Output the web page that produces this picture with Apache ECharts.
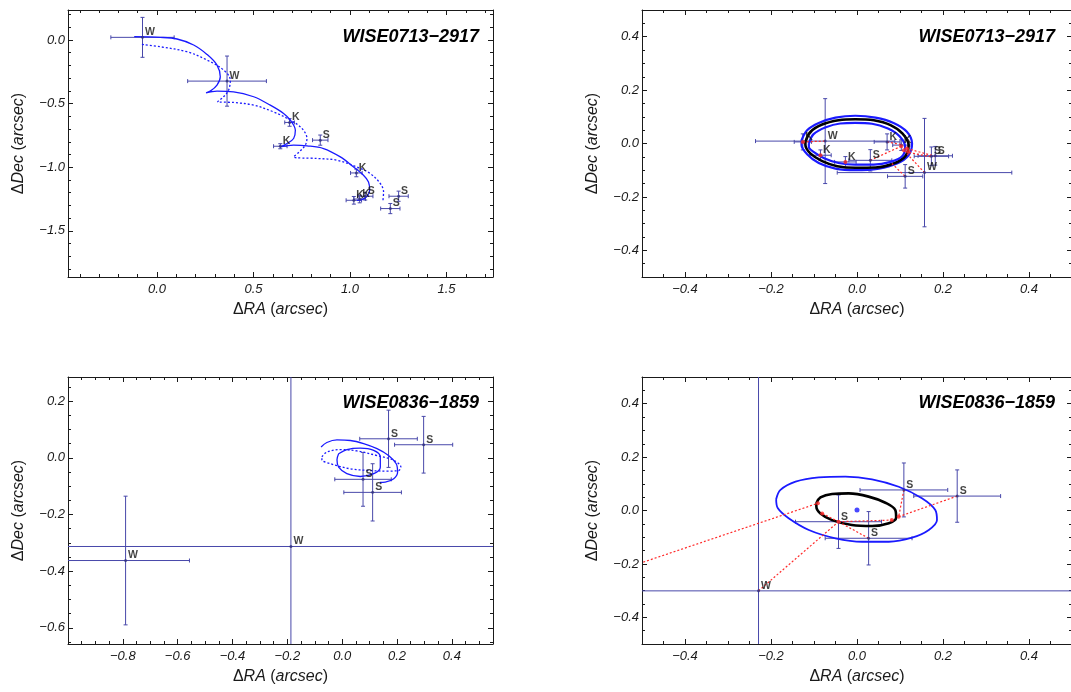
<!DOCTYPE html>
<html>
<head>
<meta charset="utf-8">
<script src="https://cdn.jsdelivr.net/npm/echarts@6/dist/echarts.min.js"></script>
<style>
  html, body { margin: 0; padding: 0; background: #fff; }
  #chart { width: 1071px; height: 692px; }
</style>
</head>
<body>
<div id="chart"></div>
<script>
// ---- WISE0713-2917, absolute track (top left) ----
const p1Lab = ['W', 'W', 'K', 'K', 'S', 'K', 'S', 'K', 'K', 'S', 'S'];
const p1X = [-0.075, 0.363, 0.687, 0.639, 0.846, 1.033, 1.079, 1.02, 1.05, 1.252, 1.209];
const p1Y = [0.021, -0.323, -0.648, -0.835, -0.787, -1.045, -1.228, -1.26, -1.25, -1.228, -1.325];
const p1Ex = [0.164, 0.204, 0.025, 0.035, 0.04, 0.03, 0.04, 0.04, 0.03, 0.05, 0.05];
const p1Ey = [0.157, 0.197, 0.03, 0.02, 0.04, 0.03, 0.03, 0.03, 0.03, 0.04, 0.04];
const p1Solid = [
  [-0.118, 0.026], [0.017, 0.021], [0.104, 0.008], [0.190, -0.039], [0.259, -0.113], [0.311, -0.197],
  [0.328, -0.289], [0.311, -0.354], [0.276, -0.402], [0.254, -0.415], [0.311, -0.402], [0.397, -0.407],
  [0.501, -0.446], [0.587, -0.512], [0.656, -0.577], [0.691, -0.630], [0.717, -0.709], [0.708, -0.774],
  [0.674, -0.813], [0.639, -0.840], [0.708, -0.827], [0.777, -0.832], [0.863, -0.853], [0.950, -0.919],
  [1.019, -0.998], [1.070, -1.063], [1.096, -1.116], [1.102, -1.181], [1.088, -1.228], [1.062, -1.254],
  [1.036, -1.260]
];
const p1Dotted = [
  [-0.078, -0.034], [0.017, -0.053], [0.155, -0.092], [0.259, -0.157], [0.345, -0.236], [0.380, -0.315],
  [0.371, -0.394], [0.345, -0.446], [0.314, -0.486], [0.397, -0.491], [0.501, -0.512], [0.604, -0.565],
  [0.691, -0.630], [0.751, -0.695], [0.777, -0.774], [0.768, -0.827], [0.734, -0.884], [0.708, -0.919],
  [0.829, -0.931], [0.933, -0.945], [1.036, -0.998], [1.105, -1.050], [1.157, -1.128], [1.174, -1.194],
  [1.171, -1.260]
];

// ---- WISE0713-2917, parallax only (top right) ----
const p2Lab = ['W', 'W', 'K', 'K', 'K', 'K', 'K', 'S', 'S', 'S', 'S'];
const p2X = [-0.074, 0.157, -0.126, -0.085, -0.027, 0.070, 0.103, 0.031, 0.112, 0.173, 0.182];
const p2Y = [0.009, -0.109, 0.006, -0.044, -0.069, 0.006, -0.006, -0.063, -0.123, -0.048, -0.046];
const p2Ex = [0.162, 0.203, 0.02, 0.025, 0.025, 0.03, 0.02, 0.05, 0.041, 0.04, 0.04];
const p2Ey = [0.159, 0.203, 0.03, 0.02, 0.02, 0.03, 0.02, 0.04, 0.044, 0.035, 0.035];
const p2BlueOuter = [
  [-0.129, 0.012], [-0.116, 0.050], [-0.089, 0.077], [-0.050, 0.097], [-0.004, 0.104], [0.043, 0.097],
  [0.085, 0.077], [0.116, 0.044], [0.128, 0.000], [0.120, -0.044], [0.093, -0.075], [0.051, -0.094],
  [-0.004, -0.100], [-0.050, -0.094], [-0.089, -0.073], [-0.116, -0.040], [-0.129, -0.006], [-0.129, 0.012]
];
const p2Black = [
  [-0.120, 0.006], [-0.108, 0.044], [-0.081, 0.071], [-0.043, 0.087], [-0.004, 0.091], [0.039, 0.087],
  [0.078, 0.069], [0.106, 0.037], [0.120, -0.006], [0.112, -0.048], [0.085, -0.075], [0.043, -0.090],
  [-0.004, -0.091], [-0.046, -0.085], [-0.081, -0.066], [-0.108, -0.038], [-0.120, -0.006], [-0.120, 0.006]
];
const p2BlueInner = [
  [-0.112, 0.000], [-0.101, 0.035], [-0.074, 0.060], [-0.039, 0.075], [-0.004, 0.077], [0.035, 0.074],
  [0.072, 0.056], [0.099, 0.027], [0.112, -0.013], [0.105, -0.048], [0.078, -0.069], [0.039, -0.079],
  [-0.004, -0.079], [-0.043, -0.073], [-0.075, -0.056], [-0.101, -0.031], [-0.112, -0.013], [-0.112, 0.000]
];
const p2Resid = [
  [-0.126, 0.006, -0.075, 0.009], [0.031, -0.063, 0.103, -0.010], [0.070, 0.006, 0.103, -0.004],
  [0.112, -0.031, 0.173, -0.050], [0.081, -0.075, 0.112, -0.123], [0.116, -0.038, 0.157, -0.109],
  [0.116, -0.019, 0.182, -0.048]
];
const p2Model = [[-0.126, 0.006], [-0.085, -0.044], [-0.027, -0.069], [0.103, -0.010], [0.109, -0.025], [0.116, -0.019], [0.120, -0.031]];

// ---- WISE0836-1859, absolute track (bottom left) ----
const p3Lab = ['W', 'W', 'S', 'S', 'S', 'S'];
const p3X = [-0.790, -0.187, 0.169, 0.297, 0.076, 0.111];
const p3Y = [-0.3625, -0.313, 0.067, 0.046, -0.076, -0.122];
const p3Ex = [0.233, 1.5, 0.105, 0.106, 0.103, 0.105];
const p3Ey = [0.227, 1.0, 0.101, 0.100, 0.095, 0.101];
const p3SolidA = [
  [-0.077, 0.038], [-0.056, 0.054], [-0.019, 0.063], [0.030, 0.061], [0.078, 0.050], [0.127, 0.032],
  [0.169, 0.008], [0.197, -0.021], [0.202, -0.050], [0.188, -0.074], [0.157, -0.086], [0.137, -0.087]
];
const p3SolidB = [
  [-0.013, 0.014], [0.017, 0.029], [0.066, 0.034], [0.115, 0.026], [0.139, 0.003], [0.139, -0.033],
  [0.115, -0.056], [0.066, -0.066], [0.017, -0.056], [-0.013, -0.033], [-0.019, -0.007], [-0.013, 0.014]
];
const p3Dotted = [
  [-0.074, 0.003], [-0.056, 0.020], [-0.007, 0.029], [0.054, 0.024], [0.127, 0.008], [0.188, -0.009],
  [0.214, -0.033], [0.206, -0.045], [0.163, -0.047], [0.102, -0.045], [0.030, -0.039], [-0.043, -0.021],
  [-0.074, -0.007], [-0.074, 0.003]
];

// ---- WISE0836-1859, parallax only (bottom right) ----
const p4Lab = ['W', 'S', 'S', 'S', 'S'];
const p4X = [-0.229, 0.109, 0.233, -0.043, 0.027];
const p4Y = [-0.301, 0.077, 0.054, -0.042, -0.104];
const p4Ex = [1.0, 0.102, 0.101, 0.1, 0.101];
const p4Ey = [1.0, 0.101, 0.098, 0.100, 0.100];
const p4Blue = [
  [-0.188, 0.042], [-0.178, 0.077], [-0.143, 0.108], [-0.089, 0.124], [-0.027, 0.127], [0.035, 0.117],
  [0.097, 0.089], [0.151, 0.046], [0.182, 0.002], [0.186, -0.036], [0.167, -0.073], [0.128, -0.102],
  [0.074, -0.117], [0.012, -0.117], [-0.050, -0.104], [-0.112, -0.073], [-0.159, -0.029], [-0.184, 0.008],
  [-0.188, 0.042]
];
const p4Black = [
  [-0.0945, 0.027], [-0.085, 0.049], [-0.058, 0.062], [-0.019, 0.064], [0.027, 0.052], [0.066, 0.029],
  [0.089, 0.002], [0.091, -0.026], [0.074, -0.048], [0.035, -0.058], [-0.012, -0.054], [-0.058, -0.036],
  [-0.085, -0.011], [-0.0945, 0.014], [-0.0945, 0.027]
];
const p4Resid = [
  [-0.55, -0.222, -0.091, 0.027], [-0.229, -0.301, -0.043, -0.042], [0.109, 0.077, 0.097, -0.023],
  [0.233, 0.054, 0.097, -0.023], [-0.043, -0.042, 0.081, -0.036], [0.027, -0.104, -0.043, -0.042],
  [-0.043, -0.042, -0.081, -0.011]
];
const p4Model = [[-0.091, 0.027], [0.097, -0.023], [0.081, -0.036], [-0.081, -0.011], [-0.043, -0.042]];
const p4Center = [[0.0, 0.002]];

const titles = ['WISE0713\u22122917', 'WISE0713\u22122917', 'WISE0836\u22121859', 'WISE0836\u22121859'];

// ---- layout ----
const FONT = '"Liberation Sans", Arial, Helvetica, sans-serif';
const INK = '#1a1a1a';
const ERR = '#4848aa';
const BLUE = '#1a1aff';
const RED = '#ff2a2a';

const grids = [
  { left: 68, top: 10, width: 425, height: 267 },
  { left: 642, top: 10, width: 430, height: 267 },
  { left: 68, top: 377, width: 425, height: 267 },
  { left: 642, top: 377, width: 430, height: 267 }
];
const xRange = [[-0.461, 1.741], [-0.5, 0.5], [-1.0, 0.55], [-0.5, 0.5]];
const yRange = [[-1.863, 0.236], [-0.5, 0.5], [-0.657, 0.285], [-0.5, 0.5]];
const xSplit = [4, 5, 8, 5], ySplit = [4, 5, 5, 5];
const xMinor = [5, 4, 4, 4], yMinor = [5, 4, 4, 4];

function fmt(v) {
  if (Math.abs(v) < 1e-9) return '0.0';
  return (v < 0 ? '\u2212' : '') + Math.abs(v).toFixed(1);
}

const nameRich = {
  n: { fontFamily: FONT, fontSize: 16, color: INK },
  i: { fontFamily: FONT, fontSize: 16, color: INK, fontStyle: 'italic' }
};

function axis(gi, range, split, minor, pos, isX) {
  const main = pos === 'bottom' || pos === 'left';
  return {
    type: 'value', gridIndex: gi, position: pos,
    min: range[0], max: range[1], splitNumber: split,
    axisLine: { show: true, onZero: false, lineStyle: { color: INK, width: 1 } },
    axisTick: { show: true, inside: true, length: 5, lineStyle: { color: INK, width: 1 } },
    minorTick: { show: true, splitNumber: minor, length: 3, lineStyle: { color: INK, width: 1 } },
    splitLine: { show: false },
    axisLabel: {
      show: main, showMinLabel: false, showMaxLabel: false, formatter: fmt,
      fontFamily: FONT, fontStyle: 'italic', fontSize: 13, color: INK, margin: isX ? 6 : 3
    },
    name: main ? (isX ? '{n|\u0394}{i|RA} {n|(}{i|arcsec}{n|)}' : '{n|\u0394}{i|Dec} {n|(}{i|arcsec}{n|)}') : '',
    nameLocation: 'middle', nameGap: isX ? 25 : 41,
    nameTextStyle: { fontFamily: FONT, fontSize: 16, color: INK, rich: nameRich }
  };
}

const xAxes = [], yAxes = [];
grids.forEach((g, i) => {
  xAxes.push(axis(i, xRange[i], xSplit[i], xMinor[i], 'bottom', true));
  xAxes.push(axis(i, xRange[i], xSplit[i], xMinor[i], 'top', true));
  yAxes.push(axis(i, yRange[i], ySplit[i], yMinor[i], 'left', false));
  yAxes.push(axis(i, yRange[i], ySplit[i], yMinor[i], 'right', false));
});

function errItem(params, api) {
  const x = api.value(0), y = api.value(1), ex = api.value(2), ey = api.value(3);
  const L = api.coord([x - ex, y]), R = api.coord([x + ex, y]);
  const T = api.coord([x, y + ey]), B = api.coord([x, y - ey]);
  const st = { stroke: ERR, lineWidth: 1 };
  const c = 2;
  const seg = (x1, y1, x2, y2) => ({ type: 'line', shape: { x1, y1, x2, y2 }, style: st });
  return {
    type: 'group',
    children: [
      seg(L[0], L[1], R[0], R[1]), seg(T[0], T[1], B[0], B[1]),
      seg(L[0], L[1] - c, L[0], L[1] + c), seg(R[0], R[1] - c, R[0], R[1] + c),
      seg(T[0] - c, T[1], T[0] + c, T[1]), seg(B[0] - c, B[1], B[0] + c, B[1])
    ]
  };
}

function residItem(params, api) {
  const a = api.coord([api.value(0), api.value(1)]);
  const b = api.coord([api.value(2), api.value(3)]);
  return {
    type: 'line', shape: { x1: a[0], y1: a[1], x2: b[0], y2: b[1] },
    style: { stroke: RED, lineWidth: 1.2, lineDash: [2, 2] }
  };
}

function curve(gi, pts, color, width, dotted) {
  return {
    type: 'line', xAxisIndex: gi * 2, yAxisIndex: gi * 2, data: pts,
    showSymbol: false, symbol: 'none', smooth: 0.35, clip: true, silent: true, z: 3,
    lineStyle: { color: color, width: width, type: dotted ? [2, 2] : 'solid' }
  };
}

function errbars(gi, xs, ys, exs, eys) {
  return {
    type: 'custom', xAxisIndex: gi * 2, yAxisIndex: gi * 2, renderItem: errItem, clip: true, silent: true, z: 2,
    encode: { x: 0, y: 1 },
    data: xs.map((x, k) => [x, ys[k], exs[k], eys[k]])
  };
}

function points(gi, labs, xs, ys) {
  return {
    type: 'scatter', xAxisIndex: gi * 2, yAxisIndex: gi * 2, symbolSize: 3, clip: true, silent: true, z: 5,
    itemStyle: { color: '#30307a' },
    label: {
      show: true, formatter: '{b}', position: 'right', distance: 1, offset: [0, -5],
      fontFamily: FONT, fontSize: 10.5, fontWeight: 'bold', color: '#111'
    },
    data: xs.map((x, k) => ({ name: labs[k], value: [x, ys[k]] }))
  };
}

function resid(gi, segs) {
  return {
    type: 'custom', xAxisIndex: gi * 2, yAxisIndex: gi * 2, renderItem: residItem, clip: true, silent: true, z: 4,
    encode: { x: [0, 2], y: [1, 3] }, data: segs
  };
}

function dots(gi, pts, color, size) {
  return {
    type: 'scatter', xAxisIndex: gi * 2, yAxisIndex: gi * 2, symbolSize: size, clip: true, silent: true, z: 6,
    itemStyle: { color: color }, data: pts
  };
}

const series = [
  // panel 1
  errbars(0, p1X, p1Y, p1Ex, p1Ey),
  curve(0, p1Solid, BLUE, 1.3, false),
  curve(0, p1Dotted, BLUE, 1.3, true),
  points(0, p1Lab, p1X, p1Y),
  // panel 2
  errbars(1, p2X, p2Y, p2Ex, p2Ey),
  curve(1, p2BlueOuter, BLUE, 2.2, false),
  curve(1, p2Black, '#000', 2.6, false),
  curve(1, p2BlueInner, BLUE, 2.2, false),
  resid(1, p2Resid),
  dots(1, p2Model, RED, 4),
  points(1, p2Lab, p2X, p2Y),
  // panel 3
  errbars(2, p3X, p3Y, p3Ex, p3Ey),
  curve(2, p3SolidA, BLUE, 1.3, false),
  curve(2, p3SolidB, BLUE, 1.3, false),
  curve(2, p3Dotted, BLUE, 1.3, true),
  points(2, p3Lab, p3X, p3Y),
  // panel 4
  errbars(3, p4X, p4Y, p4Ex, p4Ey),
  curve(3, p4Blue, BLUE, 1.8, false),
  curve(3, p4Black, '#000', 2.6, false),
  resid(3, p4Resid),
  dots(3, p4Model, RED, 4),
  dots(3, p4Center, '#1a1aff', 5),
  points(3, p4Lab, p4X, p4Y)
];

const chart = echarts.init(document.getElementById('chart'));
chart.setOption({
  animation: false,
  backgroundColor: '#fff',
  grid: grids.map(g => Object.assign({ containLabel: false, outerBoundsMode: 'none' }, g)),
  xAxis: xAxes,
  yAxis: yAxes,
  graphic: titles.map((t, i) => ({
    type: 'text', x: i % 2 ? 1055 : 479, y: i < 2 ? 37 : 403, z: 100,
    style: { text: t, align: 'right', verticalAlign: 'middle', font: 'italic bold 18px ' + FONT, fill: '#000' }
  })),
  series: series
});
</script>
</body>
</html>
